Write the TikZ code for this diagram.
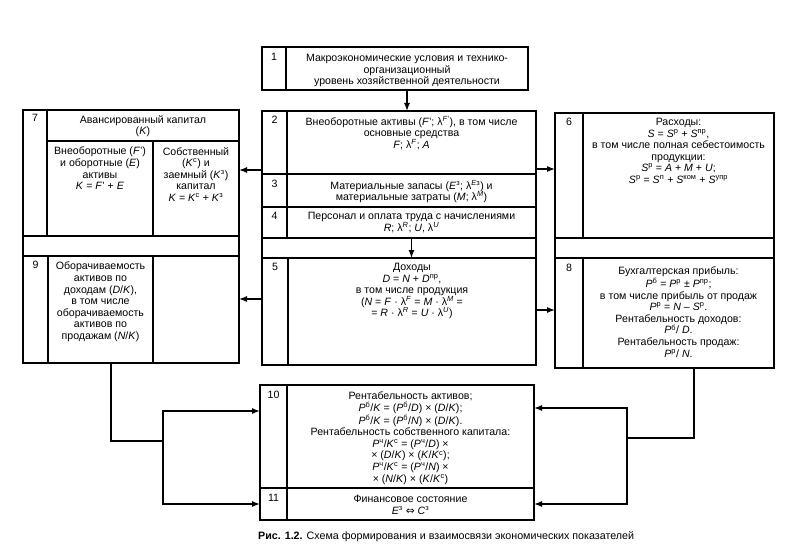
\documentclass[tikz,border=0pt]{standalone}
\usepackage{fontspec}
\setmainfont{Liberation Sans}
\newfontfamily\dejavufont{DejaVu Sans}
\usetikzlibrary{arrows.meta}
\newcommand{\itx}[1]{\textit{#1}}
\newcommand{\sps}[1]{\textsuperscript{#1}}
\newcommand{\cellat}[5]{\node[cell, minimum width={(#4-#2)*1pt}, minimum height={(#5-#3)*1pt}] (#1) at (#2,#3) {};}
\begin{document}
\begin{tikzpicture}[x=1pt,y=-1pt,
  cell/.style={draw, line width=1.3pt, inner sep=0pt, outer sep=0pt, anchor=north west},
  txt/.style={anchor=north, align=center, inner sep=0pt, font=\fontsize{10.6}{11.6}\selectfont},
  num/.style={anchor=north, inner sep=0pt, font=\fontsize{10.6}{11.6}\selectfont},
  arr/.style={line width=1.3pt, -{Latex[length=8pt,width=6pt]}},
  ln/.style={line width=1.3pt}]
\useasboundingbox (0,0) rectangle (800,548);
% middle column
\cellat{n1}{262}{47}{286}{90} \cellat{t1}{286}{47}{528}{90}
\cellat{n2}{262}{111}{287}{174} \cellat{t2}{287}{111}{536}{174}
\cellat{n3}{262}{174}{287}{207} \cellat{t3}{287}{174}{536}{207}
\cellat{n4}{262}{207}{287}{238} \cellat{t4}{287}{207}{536}{238}
\cellat{bm}{262}{238}{536}{258}
\cellat{n5}{262}{258}{288}{365} \cellat{t5}{288}{258}{536}{365}
% left column
\cellat{n7}{23}{110}{47}{236} \cellat{h7}{47}{110}{239}{141}
\cellat{a7}{47}{141}{153}{236} \cellat{c7}{153}{141}{239}{236}
\cellat{bl}{23}{236}{239}{256}
\cellat{n9}{23}{256}{48}{363} \cellat{t9}{48}{256}{153}{363} \cellat{e9}{153}{256}{239}{363}
% right column
\cellat{n6}{555}{113}{583}{238} \cellat{t6}{583}{113}{774}{238}
\cellat{br}{555}{238}{774}{258}
\cellat{n8}{555}{258}{583}{368} \cellat{t8}{583}{258}{774}{368}
% bottom
\cellat{n10}{260}{385}{287}{488} \cellat{t10}{287}{385}{534}{488}
\cellat{n11}{260}{488}{287}{520} \cellat{t11}{287}{488}{534}{520}

% numbers
\node[num] (m1) at ([yshift=-6pt]n1.north) {1};
\node[num] (m2) at ([yshift=-5pt]n2.north) {2};
\node[num] (m3) at ([yshift=-6pt]n3.north) {3};
\node[num] (m4) at ([yshift=-5pt]n4.north) {4};
\node[num] (m5) at ([yshift=-5pt]n5.north) {5};
\node[num] (m6) at ([yshift=-5pt]n6.north) {6};
\node[num] (m7) at ([yshift=-4pt]n7.north) {7};
\node[num] (m8) at ([yshift=-6pt]n8.north) {8};
\node[num] (m9) at ([yshift=-5pt]n9.north) {9};
\node[num] (m10) at ([yshift=-6pt]n10.north) {10};
\node[num] (m11) at ([yshift=-6pt]n11.north) {11};

% texts
\node[txt] (x1) at ([yshift=-7pt]t1.north) {Макроэкономические условия и технико-\\организационный\\уровень хозяйственной деятельности};
\node[txt] (x2) at ([yshift=-5pt]t2.north) {Внеоборотные активы (\itx{F}'; λ\sps{\itx{F}'}), в том числе\\основные средства\\\itx{F}; λ\sps{\itx{F}}; \itx{A}};
\node[txt] (x3) at ([yshift=-6pt]t3.north) {Материальные запасы (\itx{E}\sps{з}; λ\sps{\itx{E}з}) и\\материальные затраты (\itx{M}; λ\sps{\itx{M}})};
\node[txt] (x4) at ([yshift=-5pt]t4.north) {Персонал и оплата труда с начислениями\\\itx{R}; λ\sps{\itx{R}}; \itx{U}, λ\sps{\itx{U}}};
\node[txt] (x5) at ([yshift=-5pt]t5.north) {Доходы\\\itx{D} = \itx{N} + \itx{D}\sps{пр},\\в том числе продукция\\(\itx{N} = \itx{F} · λ\sps{\itx{F}} = \itx{M} · λ\sps{\itx{M}} =\\= \itx{R} · λ\sps{\itx{R}} = \itx{U} · λ\sps{\itx{U}})};
\node[txt] (x6) at ([yshift=-5pt]t6.north) {Расходы:\\\itx{S} = \itx{S}\sps{р} + \itx{S}\sps{пр},\\в том числе полная себестоимость\\продукции:\\\itx{S}\sps{р} = \itx{A} + \itx{M} + \itx{U};\\\itx{S}\sps{р} = \itx{S}\sps{п} + \itx{S}\sps{ком} + \itx{S}\sps{упр}};
\node[txt] (x7) at ([yshift=-5pt]h7.north) {Авансированный капитал\\(\itx{K})};
\node[txt] (x7a) at ([yshift=-6pt]a7.north) {Внеоборотные (\itx{F}')\\и оборотные (\itx{E})\\активы\\\itx{K} = \itx{F}' + \itx{E}};
\node[txt] (x7c) at ([yshift=-6pt]c7.north) {Собственный\\(\itx{K}\sps{с}) и\\заемный (\itx{K}\sps{з})\\капитал\\\itx{K} = \itx{K}\sps{с} + \itx{K}\sps{з}};
\node[txt] (x9) at ([yshift=-6pt]t9.north) {Оборачиваемость\\активов по\\доходам (\itx{D}/\itx{K}),\\в том числе\\оборачиваемость\\активов по\\продажам (\itx{N}/\itx{K})};
\node[txt] (x8) at ([yshift=-9pt]t8.north) {Бухгалтерская прибыль:\\\itx{P}\sps{б} = \itx{P}\sps{р} ± \itx{P}\sps{пр};\\в том числе прибыль от продаж\\\itx{P}\sps{р} = \itx{N} – \itx{S}\sps{р}.\\Рентабельность доходов:\\\itx{P}\sps{б}/ \itx{D}.\\Рентабельность продаж:\\\itx{P}\sps{р}/ \itx{N}.};
\node[txt] (x10) at ([yshift=-7pt]t10.north) {Рентабельность активов;\\\itx{P}\sps{б}/\itx{K} = (\itx{P}\sps{б}/\itx{D}) × (\itx{D}/\itx{K});\\\itx{P}\sps{б}/\itx{K} = (\itx{P}\sps{б}/\itx{N}) × (\itx{D}/\itx{K}).\\Рентабельность собственного капитала:\\\itx{P}\sps{ч}/\itx{K}\sps{с} = (\itx{P}\sps{ч}/\itx{D}) ×\\× (\itx{D}/\itx{K}) × (\itx{K}/\itx{K}\sps{с});\\\itx{P}\sps{ч}/\itx{K}\sps{с} = (\itx{P}\sps{ч}/\itx{N}) ×\\× (\itx{N}/\itx{K}) × (\itx{K}/\itx{K}\sps{с})};
\node[txt] (x11) at ([yshift=-7pt]t11.north) {Финансовое состояние\\\itx{E}\sps{з} {\dejavufont ⇔} \itx{C}\sps{з}};

% connectors
\draw[arr] (t1.south) -- (t1.south |- t2.north);
\draw[arr] (t4.south) -- (t4.south |- t5.north);
\coordinate (p3l) at ([yshift=4pt]n3.north west);
\draw[arr] (p3l) -- (p3l -| c7.east);
\coordinate (p3r) at ([yshift=5pt]t3.north east);
\draw[arr] (p3r) -- (p3r -| n6.west);
\coordinate (p5l) at ([yshift=-41pt]n5.north west);
\draw[arr] (p5l) -- (p5l -| e9.east);
\coordinate (p5r) at ([yshift=-52pt]t5.north east);
\draw[arr] (p5r) -- (p5r -| n8.west);
\coordinate (jl) at (163,441);
\coordinate (jr) at (627,438);
\draw[ln] ([xshift=88pt]n9.south west) |- (jl);
\coordinate (q10l) at ([yshift=-26pt]n10.north west);
\draw[arr] (jl) |- (q10l);
\draw[arr] (jl) |- (n11.west);
\draw[ln] ([xshift=111pt]t8.south west) |- (jr);
\coordinate (q10r) at ([yshift=-23pt]t10.north east);
\draw[arr] (jr) |- (q10r);
\draw[arr] (jr) |- (t11.east);

% caption
\node[anchor=west, inner sep=0pt, font=\fontsize{10.7}{12}\selectfont] (cap) at (258,537) {\textbf{Рис. 1.2.} Схема формирования и взаимосвязи экономических показателей};
\end{tikzpicture}
\end{document}
